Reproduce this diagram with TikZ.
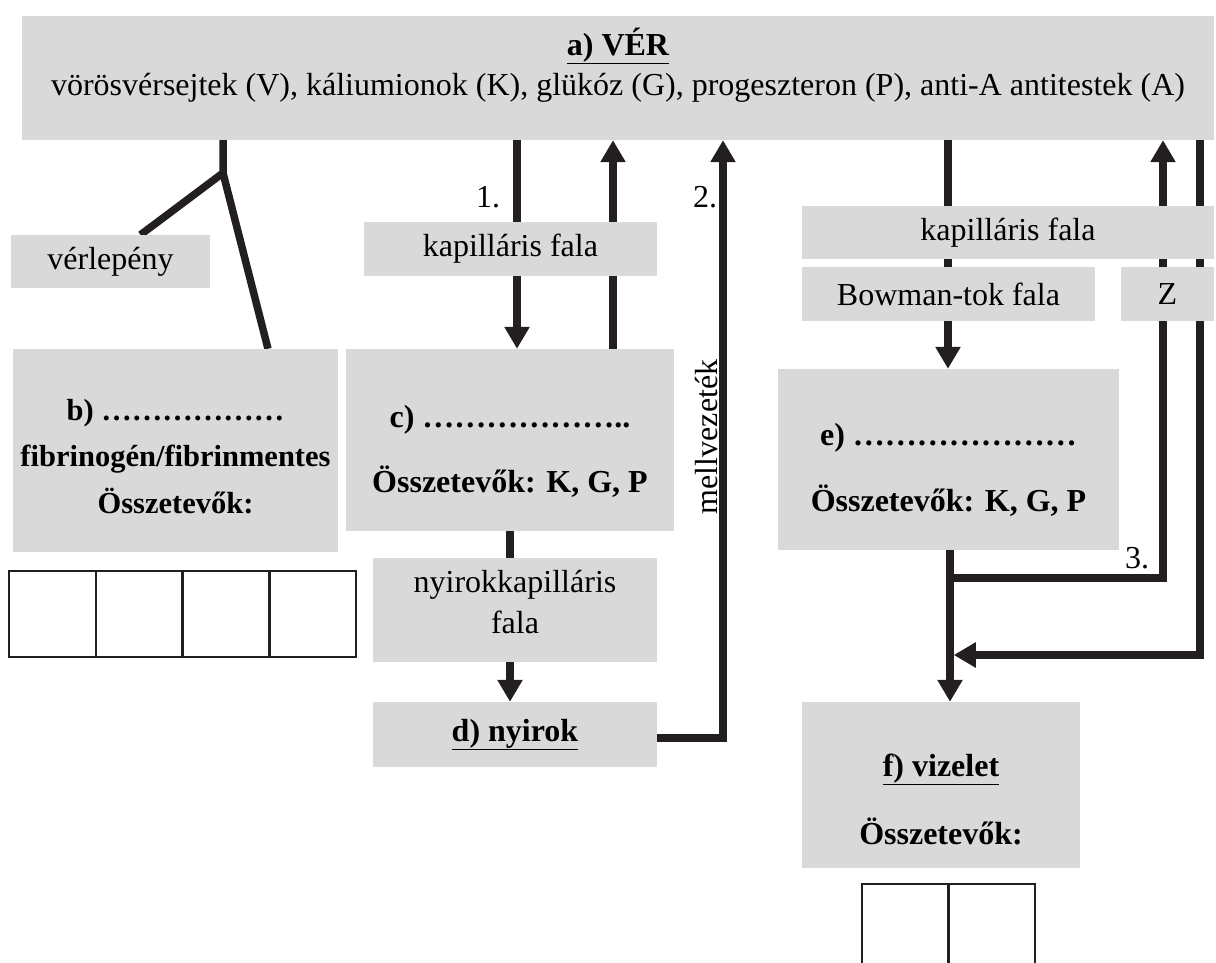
\documentclass[tikz,border=0pt]{standalone}
\usepackage{fontspec}
\setmainfont{Liberation Serif}
\usetikzlibrary{positioning, arrows.meta, backgrounds}

\definecolor{boxgray}{HTML}{D9D9DA}
\definecolor{inkdark}{HTML}{231F20}
\newcommand{\padtop}[1]{\rule{0pt}{#1}}
\newcommand{\padbot}[1]{\rule[-#1]{0pt}{#1}}

\begin{document}
\begin{tikzpicture}[
  x=1pt, y=-1pt,
  font=\fontsize{32}{38.4}\selectfont,
  panel/.style={fill=boxgray, inner sep=0pt, align=center},
  boldpanel/.style={panel, font=\fontsize{32}{38.4}\selectfont\bfseries},
  flow/.style={line width=7.5pt, draw=inkdark},
  arrow/.style={flow, -{Triangle[width=24pt, length=22pt]}},
  cell/.style={draw=inkdark, line width=2.5pt},
  numlabel/.style={inner sep=0pt},
]
\useasboundingbox (0,0) rectangle (1216,963);

% Boxes
\node[panel, minimum width=1192pt, minimum height=124pt] (ver) at (618,78)
  {\textbf{\underline{a) VÉR}}\\[2pt] vörösvérsejtek (V), káliumionok (K), glükóz (G), progeszteron (P), anti-A antitestek (A)\padbot{33pt}};
\node[panel, minimum width=199pt, minimum height=53pt] (lepeny) at (110.5,261.5) {vérlepény};
\node[panel, minimum width=293pt, minimum height=54pt] (kapfal) at (510.5,249) {kapilláris fala};
\node[boldpanel, minimum width=325pt, minimum height=203pt,
      font=\fontsize{30.5}{36.6}\selectfont\bfseries] (savo) at (175.5,450.5)
  {\padtop{33pt}b) ………………\\[10pt] fibrinogén/fibrinmentes\\[10pt] Összetevők:};
\node[boldpanel, minimum width=328pt, minimum height=182pt] (szovet) at (510,440)
  {\padtop{45pt}c) ………………..\\[26pt] Összetevők: K, G, P};
\node[panel, minimum width=284pt, minimum height=104pt] (nyirkap) at (515,610)
  {nyirokkapilláris\\[2pt] fala\padbot{16pt}};
\node[boldpanel, minimum width=284pt, minimum height=65pt] (nyirok) at (515,734.5) {\underline{d) nyirok}};

\node[panel, minimum width=412pt, minimum height=53pt] (kapfal2) at (1008,232.5) {kapilláris fala};
\node[panel, minimum width=293pt, minimum height=54pt] (bowman) at (948.5,294) {Bowman-tok fala};
\node[panel, minimum width=93pt, minimum height=54pt] (zfal) at (1167.5,294) {Z};
\node[boldpanel, minimum width=341pt, minimum height=181pt] (szurlet) at (948.5,459.5)
  {\padtop{43pt}e) …………………\\[27pt] Összetevők: K, G, P};
\node[boldpanel, minimum width=278pt, minimum height=166pt] (vizelet) at (941,785)
  {\padtop{51pt}\underline{f) vizelet}\\[30pt] Összetevők:};

% Number labels
\node[numlabel] (n1) at (488,197) {1.};
\node[numlabel] (n2) at (705,197) {2.};
\node[numlabel] (n3) at (1137,558) {3.};
\node[numlabel, rotate=90, anchor=south] (mell) at (718,437) {mellvezeték};

% Answer cells
\foreach \i in {0,...,3}
  \draw[cell] ({9+\i*86.75},571) rectangle ++(86.75,86);
\draw[cell] (862,963) -- (862,884) -- (1035,884) -- (1035,963);
\draw[cell] (948.5,884) -- (948.5,963);

% Connectors
\coordinate (elag) at (223,173);
\coordinate (col1) at (517,0);
\coordinate (col2) at (613,0);
\coordinate (col3) at (723,0);
\coordinate (col4) at (948,0);
\coordinate (col7) at (950,0);
\coordinate (elag3) at (1163,578);
\coordinate (visz) at (1200,655);

\begin{scope}[on background layer]
\draw[flow] (ver.south -| elag) -- (elag) -- ([xshift=30pt]lepeny.north);
\draw[flow] (elag) -- ([xshift=92.5pt]savo.north);
\draw[arrow] (ver.south -| col1) -- (szovet.north -| col1);
\draw[arrow] (szovet.north -| col2) -- (ver.south -| col2);
\draw[flow] (szovet.south) -- (szovet.south |- nyirkap.north);
\draw[arrow] (nyirkap.south -| szovet) -- (nyirok.north -| szovet);
\draw[arrow] ([yshift=-3.5pt]nyirok.east) -- ([yshift=-3.5pt]nyirok.east -| col3) -- (ver.south -| col3);
\draw[arrow] (ver.south -| col4) -- (szurlet.north -| col4);
\draw[arrow] (szurlet.south -| col7) -- (vizelet.north -| col7);
\draw[arrow] (elag3 -| col7) -- (elag3) -- (ver.south -| elag3);
\draw[arrow, shorten >=3.75pt] (ver.south -| visz) -- (visz) -- (visz -| col7);
\end{scope}

\end{tikzpicture}
\end{document}
